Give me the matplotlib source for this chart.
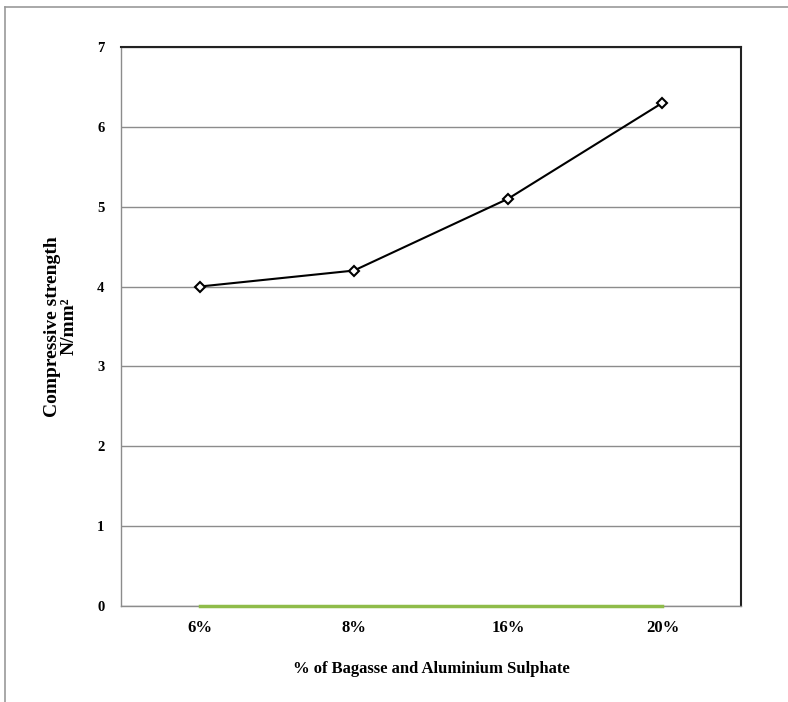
import matplotlib.pyplot as plt
from matplotlib.lines import Line2D

categories = ['6%', '8%', '16%', '20%']
strength = [4.0, 4.2, 5.1, 6.3]
baseline = [0, 0, 0, 0]
y_ticks = [0, 1, 2, 3, 4, 5, 6, 7]

plt.rcParams['font.family'] = ['Liberation Serif', 'DejaVu Serif']
plt.rcParams['font.weight'] = 'bold'

fig = plt.figure(figsize=(7.88, 7.02), dpi=100)
ax = fig.add_axes([0.1536, 0.1368, 0.7868, 0.7963])

x = list(range(len(categories)))
ax.plot(x, baseline, color='#8fbc4a', linewidth=2.5, zorder=3, clip_on=False)
ax.plot(x, strength, color='black', linewidth=1.5, marker='D', markersize=5,
        markerfacecolor='white', markeredgecolor='black', markeredgewidth=1.5, zorder=4)

ax.set_xlim(-0.51, 3.51)
ax.set_ylim(0, 7)
ax.set_yticks(y_ticks)
ax.set_xticks(x)
ax.set_xticklabels(categories)
ax.tick_params(axis='y', length=0, labelsize=10.5, pad=12)
ax.tick_params(axis='x', length=0, labelsize=12, pad=10)
for lbl in ax.get_xticklabels() + ax.get_yticklabels():
    lbl.set_fontweight('bold')

ax.grid(axis='y', color='#8c8c8c', linewidth=1)
ax.set_axisbelow(True)
for side in ['top', 'right']:
    ax.spines[side].set_color('#222222')
    ax.spines[side].set_linewidth(1.5)
for side in ['left', 'bottom']:
    ax.spines[side].set_color('#8c8c8c')
    ax.spines[side].set_linewidth(1)

ax.set_xlabel('% of Bagasse and Aluminium Sulphate', fontsize=12, fontweight='bold', labelpad=18)
ax.set_ylabel('Compressive strength\nN/mm²', fontsize=14, fontweight='bold',
              labelpad=14, linespacing=0.95)

# outer frame (top and left edges)
fig.add_artist(Line2D([5 / 788, 5 / 788], [0, 1 - 7 / 702], transform=fig.transFigure,
                      color='#9a9a9a', linewidth=1.2))
fig.add_artist(Line2D([5 / 788, 1], [1 - 7 / 702, 1 - 7 / 702], transform=fig.transFigure,
                      color='#9a9a9a', linewidth=1.2))

fig.savefig('out.png', dpi=100)
